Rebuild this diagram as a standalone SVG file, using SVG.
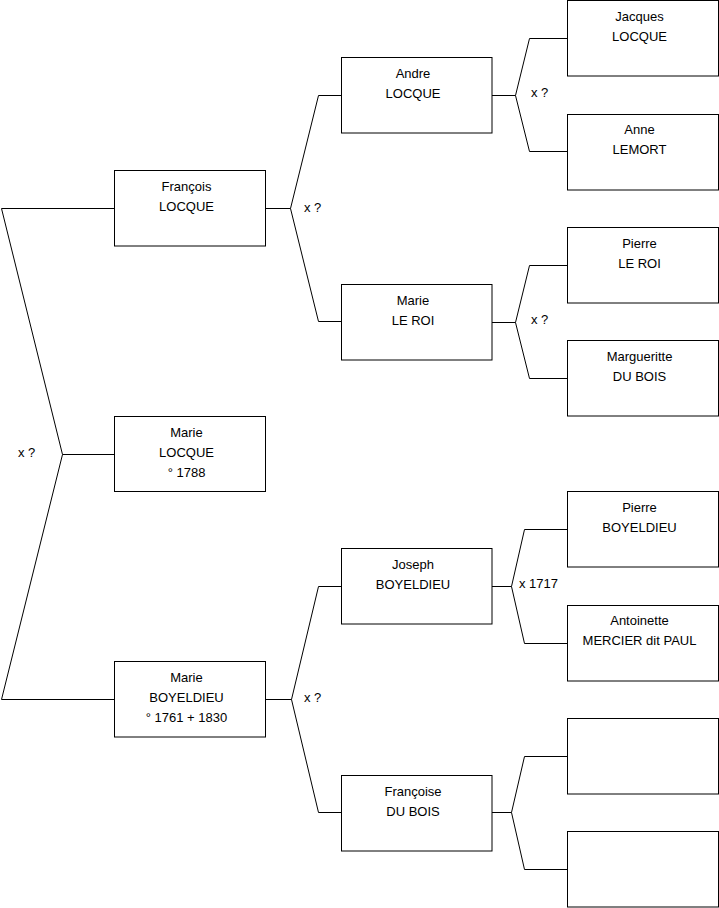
<svg xmlns="http://www.w3.org/2000/svg" width="719" height="908" viewBox="0 0 719 908">
<style>
.box{fill:#fff;stroke:#000;stroke-width:1}
.c{fill:none;stroke:#000;stroke-width:1}
text{font-family:"Liberation Sans",Arial,sans-serif;font-size:13px;fill:#000}
.n{text-anchor:middle}
</style>
<rect width="719" height="908" fill="#fff"/>
<g id="connectors">
<polyline class="c" points="114,208.5 1.5,208.5 62.5,454.5 1.5,699.5 114,699.5"/>
<line class="c" x1="62.5" y1="454.5" x2="114" y2="454.5"/>
<polyline class="c" points="265,208.5 290.5,208.5"/>
<polyline class="c" points="341,95.5 318.5,95.5 290.5,208.5 318.5,321.5 341,321.5"/>
<polyline class="c" points="265,699.5 291.5,699.5"/>
<polyline class="c" points="341,586.5 318.5,586.5 291.5,699.5 318.5,812.5 341,812.5"/>
<polyline class="c" points="492,95.5 515.5,95.5"/>
<polyline class="c" points="567,38.5 529.5,38.5 515.5,95.5 529.5,151.5 567,151.5"/>
<polyline class="c" points="492,322.5 515.5,322.5"/>
<polyline class="c" points="567,265.5 529.5,265.5 515.5,322.5 529.5,378.5 567,378.5"/>
<polyline class="c" points="492,586.5 511.5,586.5"/>
<polyline class="c" points="567,529.5 524.5,529.5 511.5,586.5 524.5,643.5 567,643.5"/>
<polyline class="c" points="492,812.5 511.5,812.5"/>
<polyline class="c" points="567,756.5 524.5,756.5 511.5,812.5 524.5,869.5 567,869.5"/>
<text x="18" y="457">x ?</text>
<text x="304" y="212">x ?</text>
<text x="304" y="702">x ?</text>
<text x="531" y="97">x ?</text>
<text x="531" y="324">x ?</text>
<text x="519" y="588">x 1717</text>
</g>
<g id="francois"><rect class="box" x="114.5" y="170.5" width="151" height="75.5"/><text class="n" x="186.5" y="191">François</text><text class="n" x="186.5" y="211">LOCQUE</text></g>
<g id="marie-locque"><rect class="box" x="114.5" y="416.5" width="151" height="75"/><text class="n" x="186.5" y="437">Marie</text><text class="n" x="186.5" y="457">LOCQUE</text><text class="n" x="186.5" y="477">° 1788</text></g>
<g id="marie-boyeldieu"><rect class="box" x="114.5" y="661.5" width="151" height="75.5"/><text class="n" x="186.5" y="682">Marie</text><text class="n" x="186.5" y="702">BOYELDIEU</text><text class="n" x="186.5" y="722">° 1761 + 1830</text></g>
<g id="andre"><rect class="box" x="341.5" y="57.5" width="150.5" height="75.5"/><text class="n" x="413" y="78">Andre</text><text class="n" x="413" y="98">LOCQUE</text></g>
<g id="marie-leroi"><rect class="box" x="341.5" y="284.5" width="150.5" height="75.5"/><text class="n" x="413" y="305">Marie</text><text class="n" x="413" y="325">LE ROI</text></g>
<g id="joseph"><rect class="box" x="341.5" y="548.5" width="150.5" height="75.5"/><text class="n" x="413" y="569">Joseph</text><text class="n" x="413" y="589">BOYELDIEU</text></g>
<g id="francoise"><rect class="box" x="341.5" y="775.5" width="150.5" height="75.5"/><text class="n" x="413" y="796">Françoise</text><text class="n" x="413" y="816">DU BOIS</text></g>
<g id="jacques"><rect class="box" x="567.5" y="0.5" width="151" height="75.5"/><text class="n" x="639.5" y="21">Jacques</text><text class="n" x="639.5" y="41">LOCQUE</text></g>
<g id="anne"><rect class="box" x="567.5" y="114.5" width="151" height="75.5"/><text class="n" x="639.5" y="134">Anne</text><text class="n" x="639.5" y="154">LEMORT</text></g>
<g id="pierre-leroi"><rect class="box" x="567.5" y="227.5" width="151" height="75.5"/><text class="n" x="639.5" y="248">Pierre</text><text class="n" x="639.5" y="268">LE ROI</text></g>
<g id="margueritte"><rect class="box" x="567.5" y="340.5" width="151" height="75.5"/><text class="n" x="639.5" y="361">Margueritte</text><text class="n" x="639.5" y="381">DU BOIS</text></g>
<g id="pierre-boyeldieu"><rect class="box" x="567.5" y="491.5" width="151" height="75.5"/><text class="n" x="639.5" y="512">Pierre</text><text class="n" x="639.5" y="532">BOYELDIEU</text></g>
<g id="antoinette"><rect class="box" x="567.5" y="605.5" width="151" height="75.5"/><text class="n" x="639.5" y="625">Antoinette</text><text class="n" x="639.5" y="645">MERCIER dit PAUL</text></g>
<g id="empty1"><rect class="box" x="567.5" y="718.5" width="151" height="75.5"/></g>
<g id="empty2"><rect class="box" x="567.5" y="831.5" width="151" height="75.5"/></g>
</svg>
